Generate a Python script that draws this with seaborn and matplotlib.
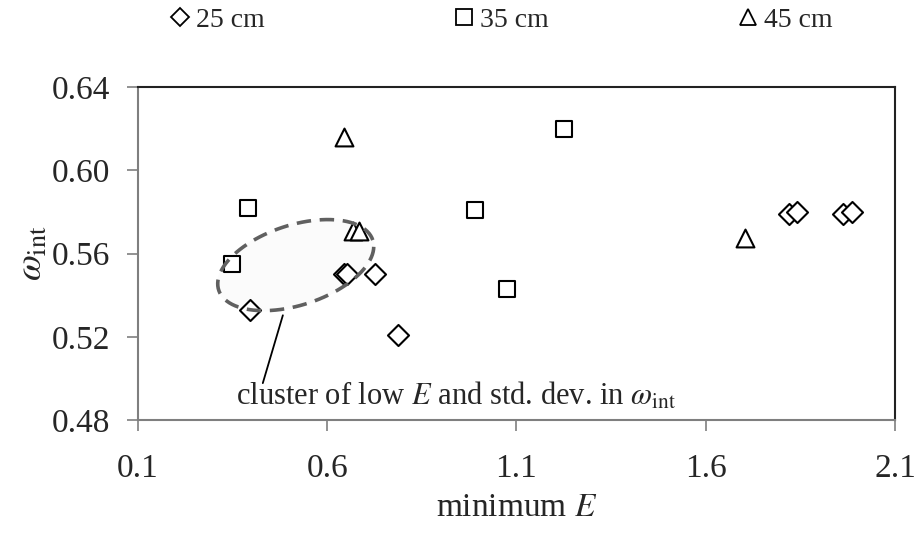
import matplotlib
matplotlib.use("Agg")
import numpy as np
import pandas as pd
import matplotlib.pyplot as plt
import seaborn as sns
from matplotlib.lines import Line2D

# data
d25_x = [0.396, 0.645, 0.652, 0.726, 0.787, 1.820, 1.841, 1.963, 1.986]
d25_y = [0.533, 0.550, 0.550, 0.550, 0.521, 0.579, 0.580, 0.579, 0.580]
s35_x = [0.348, 0.391, 0.990, 1.075, 1.225]
s35_y = [0.555, 0.582, 0.581, 0.543, 0.620]
t45_x = [0.644, 0.667, 0.685, 1.704]
t45_y = [0.616, 0.571, 0.571, 0.5675]

series_labels = ["25 cm", "35 cm", "45 cm"]
x_ticks = [0.1, 0.6, 1.1, 1.6, 2.1]
y_ticks = [0.48, 0.52, 0.56, 0.60, 0.64]

sns.set_style("ticks")
plt.rcParams["font.family"] = ["Liberation Serif", "DejaVu Serif"]
plt.rcParams["mathtext.fontset"] = "stix"

fig = plt.figure(figsize=(9.19, 5.38), dpi=100)
ax = fig.add_axes([0.150, 0.219, 0.824, 0.619])

# cluster ellipse (sized in pixels, then mapped to data units)
px_x = 0.824 * 919 / 2.0
px_y = 0.619 * 538 / 0.16
phi = np.linspace(0, 2 * np.pi, 200)
th = np.deg2rad(18)
a, b = 81, 40
ex = 0.517 + (a * np.cos(phi) * np.cos(th) - b * np.sin(phi) * np.sin(th)) / px_x
ey = 0.5545 + (a * np.cos(phi) * np.sin(th) + b * np.sin(phi) * np.cos(th)) / px_y
ax.fill(ex, ey, color="#fbfbfb", zorder=1)
ax.plot(ex, ey, color="#606060", lw=2.6, dashes=(4, 2.4), zorder=4)

markers = ["D", "s", "^"]
sizes = [115, 130, 165]
for xs, ys, m, s, lab in zip([d25_x, s35_x, t45_x], [d25_y, s35_y, t45_y],
                             markers, sizes, series_labels):
    sns.scatterplot(x=xs, y=ys, marker=m, s=s, color="white", edgecolor="black",
                    linewidth=1.5, ax=ax, legend=False, zorder=3)

# annotation
ax.plot([0.483, 0.430], [0.5304, 0.4978], color="black", lw=1.3)
ax.text(0.359, 0.4915, r"cluster of low $E$ and std. dev. in $\omega_{\mathrm{int}}$",
        fontsize=22, va="center")

ax.set_xlim(0.1, 2.1)
ax.set_ylim(0.48, 0.64)
ax.set_xticks(x_ticks)
ax.set_xticklabels([f"{v:.1f}" for v in x_ticks])
ax.set_yticks(y_ticks)
ax.set_yticklabels([f"{v:.2f}" for v in y_ticks])
ax.tick_params(direction="out", length=8, width=1.2, color="#7f7f7f", labelsize=24)
ax.tick_params(axis="y", pad=12)
ax.tick_params(axis="x", pad=16)
for side in ["left", "bottom"]:
    ax.spines[side].set_color("#7f7f7f")
    ax.spines[side].set_linewidth(1.5)
for side in ["top", "right"]:
    ax.spines[side].set_color("#222222")
    ax.spines[side].set_linewidth(1.5)

ax.set_xlabel(r"minimum $E$", fontsize=24, labelpad=6)
ax.set_ylabel(r"$\omega_{\mathrm{int}}$", fontsize=27, labelpad=1)

handles = [Line2D([], [], ls="none", marker=m, markersize=ms, markerfacecolor="white",
                  markeredgecolor="black", markeredgewidth=1.3)
           for m, ms in zip(markers, [9, 11, 12])]
fig.legend(handles, series_labels, loc="center", bbox_to_anchor=(0.545, 0.962), ncol=3,
           frameon=False, fontsize=20, handlelength=0.8, handletextpad=0.15,
           columnspacing=6.8)

fig.savefig("out.png", dpi=100)
